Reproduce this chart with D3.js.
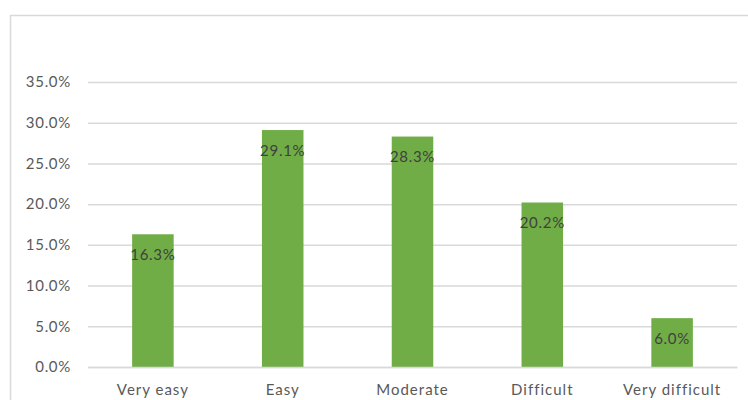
<!DOCTYPE html>
<html><head><meta charset="utf-8">
<script src="https://cdn.jsdelivr.net/npm/d3@7"></script>
<style>body{margin:0;background:#fff}svg{display:block}</style>
</head><body>
<script>
const categories = ["Very easy","Easy","Moderate","Difficult","Very difficult"];
const values = [16.3, 29.1, 28.3, 20.2, 6.0];
const yTicks = [0,5,10,15,20,25,30,35];

const W=748,H=400;
const svg=d3.select("body").append("svg").attr("width",W).attr("height",H);
svg.append("rect").attr("x",10.5).attr("y",15.5).attr("width",W-5).attr("height",H).attr("fill","none").attr("stroke","#d9d9d9").attr("stroke-width",1.5);

const x=d3.scaleBand().domain(categories).range([88,737]).paddingInner(0.68).paddingOuter(0.34);
const y=d3.scaleLinear().domain([0,35]).range([367,82]);
const font="Lato, 'Open Sans', sans-serif";
const ls="0.7px";

const yAxis=svg.append("g").attr("transform","translate(88,0)")
  .call(d3.axisLeft(y).tickValues(yTicks).tickSize(-(737-88)).tickPadding(17).tickFormat(d=>d.toFixed(1)+"%"));
yAxis.select(".domain").remove();
yAxis.selectAll("line").attr("stroke","#d9d9d9").attr("stroke-width",1.5);
yAxis.selectAll("text").attr("fill","#595959").style("font-family",font).style("font-size","15px").style("letter-spacing",ls);

svg.selectAll("rect.bar").data(values).join("rect").attr("class","bar")
  .attr("x",(d,i)=>x(categories[i])).attr("width",x.bandwidth())
  .attr("y",d=>y(d)).attr("height",d=>y(0)-y(d)).attr("fill","#70ad47");

svg.selectAll("text.lbl").data(values).join("text").attr("class","lbl")
  .attr("x",(d,i)=>x(categories[i])+x.bandwidth()/2).attr("y",d=>y(d)+22)
  .attr("text-anchor","middle").attr("dominant-baseline","middle")
  .attr("fill","#404040").style("font-family",font).style("font-size","15px").style("letter-spacing",ls)
  .text(d=>d.toFixed(1)+"%");

const xAxis=svg.append("g").attr("transform","translate(0,367)")
  .call(d3.axisBottom(x).tickSize(0).tickPadding(17));
xAxis.select(".domain").attr("stroke","#d9d9d9").attr("stroke-width",1.5);
xAxis.selectAll("text").attr("fill","#595959").style("font-family",font).style("font-size","15px").style("letter-spacing","1px");
</script>
</body></html>
